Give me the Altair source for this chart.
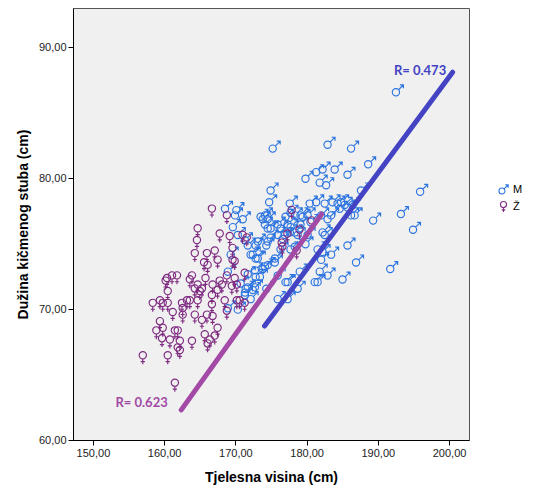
import altair as alt
import pandas as pd

# ---- data ----
male_height = [192.8, 175.5, 183.2, 186.5, 188.9, 186.0, 180.1, 181.6, 182.5, 184.2, 182.1, 183.0,
               175.2, 175.0, 196.2, 193.5, 195.2, 189.6, 186.0, 186.5, 187.9, 180.7, 181.6, 182.8,
               183.9, 184.6, 185.1, 185.6, 177.9, 178.0, 179.4, 180.4, 182.3, 183.7, 184.9, 186.0,
               174.4, 174.1, 175.2, 176.6, 177.6, 177.2, 178.6, 179.4, 180.4, 182.5, 183.2, 186.7,
               187.0, 192.0, 183.7, 187.2, 182.3, 183.2, 185.3, 181.8, 182.8, 179.0, 177.6, 176.2,
               174.4, 175.8, 173.4, 174.8, 178.0, 168.8, 170.4, 169.9, 170.6, 171.6, 173.4, 174.8,
               174.8, 170.2, 171.3, 173.8, 174.4, 176.2, 177.3, 178.6, 179.7, 180.8, 178.0, 179.0,
               175.2, 176.2, 176.9, 177.9, 174.6, 172.0, 176.6, 178.6, 180.1, 172.7, 173.1, 175.8,
               174.8, 174.1, 173.0, 172.0, 173.1, 176.2, 172.0, 171.0, 171.6, 172.7, 174.6, 177.3,
               179.3, 182.1, 181.4, 177.6, 182.5, 181.8, 169.2, 170.6, 171.6, 172.4, 171.7, 173.0,
               173.7, 169.2, 169.6, 172.4, 173.1]
male_spine = [86.7, 82.4, 82.7, 82.4, 81.2, 80.4, 80.1, 80.6, 80.8, 80.8, 79.8, 79.6,
              79.2, 78.3, 79.1, 77.4, 76.2, 76.9, 75.0, 77.3, 79.2, 78.2, 78.3, 78.2,
              78.3, 78.2, 78.3, 78.1, 78.2, 77.5, 77.3, 77.3, 77.3, 77.3, 77.8, 77.9,
              77.3, 77.0, 76.3, 76.3, 76.6, 75.8, 76.0, 76.6, 75.8, 76.0, 77.0, 78.1,
              77.3, 73.2, 74.3, 73.7, 73.9, 72.7, 72.4, 72.2, 75.8, 71.7, 72.2, 70.9,
              73.4, 73.7, 74.0, 75.3, 74.7, 77.8, 77.7, 76.4, 75.8, 75.4, 75.3, 77.0,
              76.3, 77.3, 77.0, 77.2, 76.6, 76.6, 77.2, 77.3, 77.2, 76.8, 76.4, 75.8,
              75.6, 75.8, 75.5, 76.0, 75.0, 75.0, 74.7, 74.9, 75.1, 74.3, 74.0, 74.0,
              73.5, 73.2, 73.1, 72.8, 72.6, 72.7, 71.8, 72.1, 71.4, 71.6, 71.7, 72.2,
              73.0, 73.0, 72.2, 70.9, 74.5, 74.7, 70.2, 70.1, 71.2, 70.9, 71.7, 71.8,
              72.6, 73.0, 74.3, 74.3, 75.0]

female_height = [157.0, 160.5, 161.5, 162.2, 161.9, 158.4, 159.4, 159.8, 160.5, 160.5, 162.5, 163.2,
                 163.6, 162.6, 162.6, 164.7, 165.0, 166.7, 166.7, 168.5, 166.8, 166.0, 164.3, 165.3,
                 167.5, 159.4, 158.9, 159.8, 159.7, 160.8, 161.5, 161.9, 162.2, 163.9, 165.7, 166.4,
                 166.1, 167.1, 161.2, 161.1, 161.8, 160.4, 163.9, 163.6, 164.7, 164.3, 165.3, 165.8,
                 166.8, 167.5, 168.1, 168.8, 169.9, 170.2, 168.8, 164.6, 164.3, 166.0, 167.1, 165.6,
                 166.1, 167.5, 169.6, 171.3, 160.2, 166.7, 168.8, 164.7, 167.8, 169.2, 169.5, 167.8,
                 169.6, 171.0, 171.6, 169.9, 170.2, 170.6, 171.3, 176.6, 177.9, 177.3, 180.7, 179.0,
                 176.5, 178.6]
female_spine = [66.3, 66.3, 64.2, 66.7, 66.9, 70.3, 70.5, 70.3, 70.3, 71.2, 70.3, 70.5,
                70.5, 69.9, 69.4, 70.5, 71.2, 70.2, 70.9, 70.5, 69.3, 69.4, 69.4, 69.0,
                68.4, 68.9, 68.2, 68.4, 67.6, 67.5, 68.2, 68.2, 67.4, 67.4, 67.9, 67.5,
                67.2, 67.8, 69.6, 72.4, 72.4, 72.2, 72.4, 72.1, 71.7, 71.4, 71.4, 72.2,
                71.7, 71.3, 71.7, 72.4, 72.2, 70.5, 69.7, 75.1, 74.1, 74.1, 74.3, 73.4,
                73.2, 73.6, 73.6, 72.6, 72.0, 77.5, 77.0, 76.0, 75.6, 75.4, 71.6, 72.0,
                74.5, 75.5, 75.3, 73.5, 71.7, 70.5, 70.3, 74.6, 77.4, 75.6, 76.6, 75.9,
                74.9, 74.3]

groups = ["M", "Ž"]
group_colors = ["#2b74e0", "#7e2a80"]
line_colors = ["#4343c4", "#a24aa6"]

male_fit_x = [174.1, 200.5]
male_fit_y = [68.7, 88.1]
female_fit_x = [162.4, 182.1]
female_fit_y = [62.3, 77.25]

r_labels = ["R= 0.473", "R= 0.623"]
r_label_x = [199.6, 160.5]
r_label_y = [88.2, 62.8]

x_ticks = [150, 160, 170, 180, 190, 200]
y_ticks = [60, 70, 80, 90]

# ---- symbols (male / female signs) ----
male_path = ("M-0.83,0.28A0.55,0.55,0,1,0,0.27,0.28A0.55,0.55,0,1,0,-0.83,0.28Z"
             "M0.11,-0.11L0.85,-0.85M0.33,-0.85L0.85,-0.85L0.85,-0.33")
female_path = ("M-0.55,-0.35A0.55,0.55,0,1,0,0.55,-0.35A0.55,0.55,0,1,0,-0.55,-0.35Z"
               "M0,0.2L0,1M-0.32,0.62L0.32,0.62")

pts = pd.DataFrame({
    "h": male_height + female_height,
    "s": male_spine + female_spine,
    "g": ["M"] * len(male_height) + ["Ž"] * len(female_height),
})
male_line = pd.DataFrame({"h": male_fit_x, "s": male_fit_y})
female_line = pd.DataFrame({"h": female_fit_x, "s": female_fit_y})
labels = pd.DataFrame({"h": r_label_x, "s": r_label_y, "t": r_labels, "c": line_colors})

xs = alt.Scale(domain=[147.2, 202.8], nice=False, zero=False)
ys = alt.Scale(domain=[60, 93.0], nice=False, zero=False)
fmt = "replace(format(datum.value, '.2f'), '.', ',')"

X = alt.X("h:Q", scale=xs, title="Tjelesna visina (cm)",
          axis=alt.Axis(values=x_ticks, labelExpr=fmt, titlePadding=12))
Y = alt.Y("s:Q", scale=ys, title="Dužina kičmenog stuba (cm)",
          axis=alt.Axis(values=y_ticks, labelExpr=fmt, titlePadding=8))

leg = alt.Legend(title=None, orient="none", legendX=424, legendY=175, padding=0,
                 labelOffset=3, symbolSize=120, labelFontSize=11, rowPadding=2)

points = alt.Chart(pts).mark_point(filled=False, size=175, strokeWidth=1.15, opacity=1).encode(
    x=X, y=Y,
    color=alt.Color("g:N", scale=alt.Scale(domain=groups, range=group_colors), legend=leg),
    shape=alt.Shape("g:N", scale=alt.Scale(domain=groups, range=[male_path, female_path]), legend=leg),
)

mline = alt.Chart(male_line).mark_line(strokeWidth=5, strokeCap="round", color=line_colors[0]).encode(
    x=alt.X("h:Q", scale=xs), y=alt.Y("s:Q", scale=ys))
fline = alt.Chart(female_line).mark_line(strokeWidth=5, strokeCap="round", color=line_colors[1]).encode(
    x=alt.X("h:Q", scale=xs), y=alt.Y("s:Q", scale=ys))

text = alt.Chart(labels).mark_text(align="right", baseline="middle", font="Lato",
                                    fontWeight="bold", fontSize=13).encode(
    x=alt.X("h:Q", scale=xs), y=alt.Y("s:Q", scale=ys), text="t:N",
    color=alt.Color("c:N", scale=None))

chart = alt.layer(points, fline, mline, text).properties(
    width=396, height=432,
    autosize=alt.AutoSizeParams(type="none"),
    padding={"left": 65, "top": 0, "right": 55, "bottom": 46},
).configure_view(
    fill="#f0f0f0", stroke="#555555", strokeWidth=1
).configure_axis(
    grid=False, domainColor="#000000", tickColor="#000000", tickSize=5,
    labelColor="#222222", labelFont="Liberation Sans", labelFontSize=11,
    titleFont="Liberation Sans", titleFontSize=14, titleFontWeight="bold", titleColor="#000000",
).configure_legend(
    labelFont="Liberation Sans", labelColor="#000000", symbolStrokeWidth=1.1
)

chart.save("out.html", embed_options={"renderer": "svg", "actions": False})
